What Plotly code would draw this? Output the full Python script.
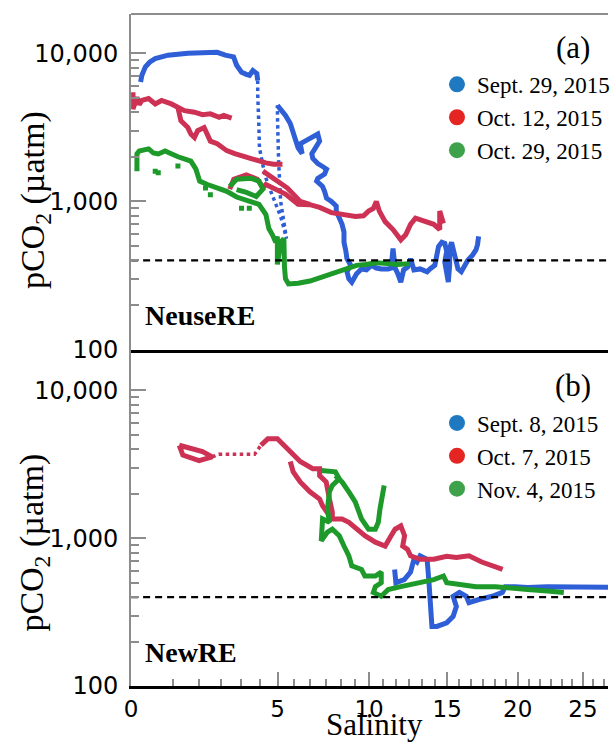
import plotly.graph_objects as go

# ---------------- data: salinity vs pCO2 (µatm) ----------------
# Neuse River Estuary (panel a)
NEUSE_SEP29_ARC = [(0.10, 6400), (0.12, 7100), (0.18, 8100), (0.26, 8700), (0.38, 9200), (0.70, 9700),
                   (1.29, 10000), (1.97, 10200), (2.34, 10150), (2.66, 9700), (3.00, 9450), (3.13, 8300),
                   (3.34, 7450), (3.55, 7200), (3.69, 7100), (3.84, 7650), (4.02, 7300), (4.06, 6550)]
NEUSE_SEP29_SPARSE = [(4.06, 6550), (4.06, 5300), (4.11, 3350), (4.14, 2300), (4.29, 1780), (4.44, 1440),
                      (4.67, 1170), (4.99, 900), (5.15, 790), (5.31, 660), (5.44, 560), (5.15, 1000),
                      (5.05, 1870), (5.00, 3500), (4.99, 4450)]
NEUSE_SEP29_MAIN = [(4.99, 4450), (5.15, 4200), (5.39, 3800), (5.63, 3350), (5.88, 2700), (6.03, 2300),
                    (6.24, 2100), (6.14, 2450), (6.39, 2550), (6.65, 2650), (6.91, 2750), (7.07, 2850),
                    (7.17, 2550), (7.01, 2350), (6.75, 2100), (6.80, 1950), (7.07, 1800), (7.33, 1720),
                    (7.55, 1650), (7.44, 1530), (7.07, 1430), (7.01, 1370), (7.33, 1260), (7.44, 1170),
                    (7.55, 1050), (7.82, 1000), (8.09, 930), (8.09, 860), (8.26, 770), (8.42, 700),
                    (8.53, 620), (8.53, 530), (8.64, 460), (8.70, 410), (8.92, 370), (8.70, 335),
                    (8.81, 300), (8.98, 285), (9.26, 325), (9.55, 350), (9.85, 345), (10.14, 370),
                    (10.44, 355), (10.74, 350), (11.17, 350), (11.35, 355), (11.47, 480), (11.60, 355),
                    (11.77, 325), (11.96, 285), (12.14, 345), (12.39, 360), (12.58, 410), (12.80, 345),
                    (13.20, 350), (13.66, 335), (13.85, 350), (14.17, 370), (14.42, 495), (14.64, 530),
                    (14.84, 520), (14.97, 460), (14.84, 390), (14.97, 335), (15.08, 285), (15.17, 370),
                    (15.17, 480), (15.30, 530), (15.41, 480), (15.50, 410), (15.74, 350), (15.97, 335),
                    (16.17, 370), (16.42, 400), (16.76, 435), (16.99, 470), (17.10, 510), (17.18, 580)]

NEUSE_OCT12_A = [(0.01, 5450), (0.01, 4200), (0.05, 5050), (0.08, 4500), (0.12, 4800), (0.24, 4950),
                 (0.38, 4550), (0.53, 4800), (0.79, 4550), (0.98, 4300), (1.18, 4100), (1.51, 4000),
                 (1.79, 3850), (2.08, 3900), (2.42, 3700), (2.60, 3800), (2.92, 3650)]
NEUSE_OCT12_B = [(0.98, 4300), (1.07, 3500), (1.29, 3150), (1.39, 2850), (1.51, 2700), (1.62, 3000),
                 (1.85, 3150), (1.97, 2850), (2.08, 2550), (2.34, 2450), (2.72, 2200), (3.05, 2100),
                 (3.41, 2000), (3.84, 1930), (4.44, 1820), (4.81, 1780), (5.24, 1780)]
NEUSE_OCT12_C = [(2.84, 1210), (3.01, 1410), (3.55, 1510), (4.04, 1410), (4.30, 1240), (4.44, 1300),
                 (5.39, 1120), (6.03, 955), (6.65, 950), (7.17, 910), (7.82, 840), (8.70, 815),
                 (9.20, 790), (9.67, 800), (9.97, 860), (10.26, 895), (10.44, 1000), (10.62, 860),
                 (10.98, 730), (11.47, 645), (11.96, 550), (12.27, 595), (12.58, 700), (12.90, 770),
                 (13.47, 730), (14.10, 700), (14.50, 645), (14.50, 860), (14.75, 710)]
NEUSE_OCT12_D = [(4.30, 1600), (4.81, 1430), (5.49, 1230), (6.14, 1000), (6.65, 955)]

NEUSE_OCT29_A = [(0.05, 1600), (0.05, 2090), (0.08, 2190), (0.24, 2260), (0.34, 2120), (0.45, 2090),
                 (0.62, 2190), (0.79, 2090), (0.98, 2000), (1.20, 1930), (1.39, 1870), (1.56, 1650),
                 (1.69, 1370), (1.97, 1300), (2.34, 1230), (2.72, 1170), (3.13, 1070), (3.68, 1000),
                 (4.12, 955), (4.44, 815), (4.58, 655), (4.75, 595), (4.91, 530), (4.99, 580),
                 (4.99, 375), (5.15, 530), (5.31, 560), (5.34, 360), (5.39, 300), (5.54, 277),
                 (6.03, 280), (6.65, 290), (7.17, 305), (7.87, 320), (8.53, 345), (8.81, 350),
                 (9.26, 370), (9.79, 375), (10.44, 385), (11.17, 380), (11.77, 375), (12.52, 380)]
NEUSE_OCT29_B = [(2.84, 1260), (3.13, 1410), (3.77, 1430), (4.12, 1370), (4.30, 1210), (3.99, 1080),
                 (3.55, 1150), (3.13, 1200)]
NEUSE_OCT29_DOTS = [(0.38, 1600), (0.45, 1560), (0.98, 1730), (1.90, 1230), (2.08, 1110), (3.34, 900),
                    (3.68, 900)]

# New River Estuary (panel b)
NEW_SEP08 = [(11.57, 615), (11.65, 500), (12.18, 525), (12.58, 590), (12.80, 720), (13.00, 690),
             (13.20, 760), (13.66, 720), (13.77, 525), (13.85, 345), (13.98, 253), (14.31, 253),
             (14.97, 268), (15.41, 296), (15.63, 345), (15.41, 405), (15.84, 430), (16.31, 405),
             (16.50, 367), (17.20, 385), (18.15, 405), (18.88, 430), (19.09, 470), (19.80, 470),
             (20.75, 465), (22.23, 470), (24.26, 470), (25.80, 465), (27.50, 465)]

NEW_OCT07_LOOP = [(1.02, 4250), (1.13, 3650), (1.67, 3350), (2.15, 3550), (1.79, 3850), (1.35, 4050),
                  (1.02, 4250)]
NEW_OCT07_SPARSE = [(2.15, 3550), (2.40, 3700), (3.05, 3700), (3.92, 3700), (4.21, 4250)]
NEW_OCT07_MAIN = [(4.21, 4250), (4.53, 4700), (4.99, 4700), (5.29, 4250), (5.78, 3650), (6.14, 3300),
                  (6.80, 2950), (7.17, 2950), (7.17, 2650), (7.53, 2400), (7.71, 1840), (7.87, 1500),
                  (7.87, 1350), (8.42, 1350), (8.81, 1280), (9.26, 1150), (9.75, 1040), (10.38, 940),
                  (10.98, 885), (11.35, 1040), (11.60, 1150), (11.96, 1210), (12.20, 1040), (12.08, 885),
                  (12.39, 840), (12.58, 760), (13.20, 720), (14.10, 720), (14.97, 755), (15.63, 740),
                  (16.50, 760), (17.40, 690), (18.38, 645), (18.90, 615)]
NEW_OCT07_LOW = [(5.63, 3300), (5.78, 2810), (6.14, 2400), (6.65, 2060), (7.17, 1840), (7.33, 1660),
                 (7.71, 1420), (7.87, 1350)]

NEW_NOV04_MAIN = [(7.26, 2870), (8.04, 2810), (8.26, 2520), (7.87, 2270), (7.71, 2060), (7.60, 1570),
                  (7.71, 1280), (7.33, 1350), (7.26, 960), (7.60, 1100), (7.87, 1150), (8.26, 1040),
                  (8.53, 885), (8.81, 760), (8.98, 650), (9.55, 615), (9.75, 555), (10.38, 555),
                  (10.74, 590), (10.74, 500), (10.38, 470), (10.26, 430), (10.74, 405), (11.17, 450),
                  (11.96, 470), (13.20, 500), (14.10, 525), (14.75, 555), (14.97, 500), (15.63, 490),
                  (16.99, 470), (18.38, 470), (19.30, 465), (20.75, 450), (22.23, 440), (23.50, 430)]
NEW_NOV04_LOOP = [(8.04, 2650), (8.42, 2400), (8.81, 2060), (9.18, 1760), (9.55, 1350), (9.97, 1150),
                  (10.38, 1150), (10.56, 1280), (10.66, 1570), (10.74, 1840), (10.92, 2270)]

ATM_PCO2 = 400  # atmospheric reference level

SAL_TICKS = [0, 5, 10, 15, 20, 25]
PCO2_TICKS = [100, 1000, 10000]
PCO2_TICK_TEXT = ["100", "1,000", "10,000"]

NEUSE_DATES = ["Sept. 29, 2015", "Oct. 12, 2015", "Oct. 29, 2015"]
NEW_DATES = ["Sept. 8, 2015", "Oct. 7, 2015", "Nov. 4, 2015"]

# ---------------- styling ----------------
BLUE, RED, GREEN = "#2f5fd6", "#cd3254", "#1d9a2a"
KEY_COLORS = ["#1f79c0", "#e52521", "#3da249"]
SERIF = "Liberation Serif"
SANS = "DejaVu Sans"
AXIS_GREY = "#8c8c8c"

POWER = 0.7          # salinity axis is drawn on a S**0.7 scale
S_MAX = 27.0


def fwd(s):
    return s ** POWER


X_MAX = fwd(S_MAX)


def xy(points):
    return [fwd(p[0]) for p in points], [p[1] for p in points]


def joined(*segments):
    xs, ys = [], []
    for seg in segments:
        sx, sy = xy(seg)
        xs += sx + [None]
        ys += sy + [None]
    return xs, ys


fig = go.Figure()


def add_line(segments, color, axes, dash="solid", width=5):
    x, y = joined(*segments)
    fig.add_trace(go.Scatter(x=x, y=y, mode="lines", xaxis=axes[0], yaxis=axes[1],
                             line=dict(color=color, width=width, dash=dash),
                             connectgaps=False, showlegend=False, hoverinfo="skip"))


A = ("x", "y")
B = ("x2", "y2")

# panel a
add_line([NEUSE_SEP29_ARC, NEUSE_SEP29_MAIN], BLUE, A)
add_line([NEUSE_SEP29_SPARSE], BLUE, A, dash="dot", width=3.5)
add_line([NEUSE_OCT12_A, NEUSE_OCT12_B, NEUSE_OCT12_C, NEUSE_OCT12_D], RED, A)
add_line([NEUSE_OCT29_A, NEUSE_OCT29_B], GREEN, A)
dx, dy = xy(NEUSE_OCT29_DOTS)
fig.add_trace(go.Scatter(x=dx, y=dy, mode="markers", xaxis="x", yaxis="y",
                         marker=dict(color=GREEN, size=5, symbol="square"),
                         showlegend=False, hoverinfo="skip"))

# panel b
add_line([NEW_SEP08], BLUE, B)
add_line([NEW_OCT07_LOOP, NEW_OCT07_MAIN, NEW_OCT07_LOW], RED, B)
add_line([NEW_OCT07_SPARSE], RED, B, dash="dot", width=3.5)
add_line([NEW_NOV04_MAIN, NEW_NOV04_LOOP], GREEN, B)

# atmospheric reference lines
for ax in (A, B):
    fig.add_trace(go.Scatter(x=[0, X_MAX], y=[ATM_PCO2, ATM_PCO2], mode="lines",
                             xaxis=ax[0], yaxis=ax[1],
                             line=dict(color="black", width=2.2, dash="7px,5px"),
                             showlegend=False, hoverinfo="skip"))

# legend keys
for name, col in zip(NEUSE_DATES, KEY_COLORS):
    fig.add_trace(go.Scatter(x=[None], y=[None], mode="markers", name=name, legend="legend",
                             xaxis="x", yaxis="y", marker=dict(color=col, size=16)))
for name, col in zip(NEW_DATES, KEY_COLORS):
    fig.add_trace(go.Scatter(x=[None], y=[None], mode="markers", name=name, legend="legend2",
                             xaxis="x2", yaxis="y2", marker=dict(color=col, size=16)))

W, H = 615, 748
VIS_H = 735          # drawable height used for vertical placement


def fy(py):
    """paper fraction for a vertical pixel position"""
    return 1 - py / VIS_H


X0 = 127 / W
DOM_A = [fy(350), fy(14)]
DOM_B = [fy(687), fy(350)]

minor_sal = [fwd(k * 5 / 6) for k in range(1, 33) if k % 6 != 0]
minor_pco2 = [m * d for d in (100, 1000) for m in range(2, 10)]

xcommon = dict(range=[0, X_MAX], domain=[X0, 1], showgrid=False, zeroline=False,
               showline=True, linecolor="black", linewidth=3)
ycommon = dict(type="log", showgrid=False, zeroline=False, showline=True, linecolor=AXIS_GREY,
               linewidth=2, ticks="inside", ticklen=15, tickwidth=2, tickcolor=AXIS_GREY,
               tickmode="array", tickvals=PCO2_TICKS, ticktext=PCO2_TICK_TEXT,
               ticklabelstandoff=6,
               tickfont=dict(family=SANS, size=24, color="black"),
               minor=dict(tickmode="array", tickvals=minor_pco2, ticks="inside", ticklen=8,
                          tickwidth=2, tickcolor=AXIS_GREY))

legend_style = dict(xanchor="left", yanchor="top", bgcolor="rgba(0,0,0,0)",
                    font=dict(family=SERIF, size=23, color="black"), tracegroupgap=0,
                    itemsizing="trace")

fig.update_layout(
    width=W, height=H, autosize=False,
    margin=dict(l=0, r=0, t=0, b=0),
    paper_bgcolor="white", plot_bgcolor="white",
    xaxis=dict(**xcommon, anchor="y", ticks="", showticklabels=False),
    yaxis=dict(**ycommon, anchor="x", domain=DOM_A, range=[2, 4.265]),
    xaxis2=dict(**xcommon, anchor="y2", ticks="inside", ticklen=14, tickwidth=2, tickcolor=AXIS_GREY,
                tickmode="array", tickvals=[fwd(s) for s in SAL_TICKS],
                ticktext=[str(s) for s in SAL_TICKS],
                tickfont=dict(family=SANS, size=23, color="black"),
                minor=dict(tickmode="array", tickvals=minor_sal, ticks="inside", ticklen=7,
                           tickwidth=2, tickcolor=AXIS_GREY)),
    yaxis2=dict(**ycommon, anchor="x2", domain=DOM_B, range=[2, 4.276]),
    legend=dict(x=440 / W, y=fy(63), **legend_style),
    legend2=dict(x=440 / W, y=fy(402), **legend_style),
    showlegend=True,
)

# grey top frame of panel a
fig.add_shape(type="line", xref="paper", yref="paper", x0=X0, x1=1, y0=DOM_A[1], y1=DOM_A[1],
              line=dict(color=AXIS_GREY, width=2))

notes = [
    ("pCO<sub>2</sub> (µatm)", 28, 200, SERIF, 34, -90),
    ("pCO<sub>2</sub> (µatm)", 28, 543, SERIF, 34, -90),
    ("Salinity", 376, 725, SERIF, 31, 0),
    ("(a)", 579, 48, SERIF, 31, 0),
    ("(b)", 579, 386, SERIF, 31, 0),
    ("<b>NeuseRE</b>", 197, 316, SERIF, 28, 0),
    ("<b>NewRE</b>", 188, 653, SERIF, 28, 0),
]
for text, px, py, fam, size, ang in notes:
    fig.add_annotation(text=text, x=px / W, y=fy(py), xref="paper", yref="paper",
                       xanchor="center", yanchor="middle", showarrow=False, textangle=ang,
                       font=dict(family=fam, size=size, color="black"))

fig.write_html("out.html")
